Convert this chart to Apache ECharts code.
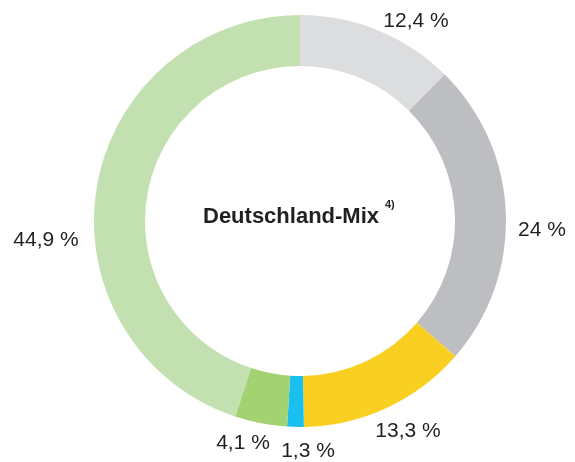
<!DOCTYPE html>
<html>
<head>
<meta charset="utf-8">
<script src="https://cdn.jsdelivr.net/npm/echarts@6/dist/echarts.min.js"></script>
<style>html,body{margin:0;padding:0;background:#fff}#c{width:575px;height:462px}</style>
</head>
<body>
<div id="c"></div>
<script>
const categories = ['A', 'B', 'C', 'D', 'E', 'F'];
const values = [12.4, 24, 13.3, 1.3, 4.1, 44.9];
const centerTitle = 'Deutschland-Mix';
const centerNote = '4)';

const COLORS = ['#dcdddf', '#bdbec1', '#f9cf22', '#19c0ef', '#a2d272', '#c3e0b0'];
const LABEL_POS = [[416, 21], [542, 230], [408, 431], [308, 451], [243, 443], [46, 240]];

const chart = echarts.init(document.getElementById('c'), null, {renderer: 'canvas'});
chart.setOption({
  animation: false,
  graphic: [{
    type: 'text',
    style: {
      x: 203, y: 217,
      text: centerTitle,
      fontFamily: 'Liberation Sans', fontWeight: 'bold', fontSize: 22, fill: '#231f20',
      textAlign: 'left', textVerticalAlign: 'middle'
    }
  }, {
    type: 'text',
    style: {
      x: 385, y: 205,
      text: centerNote,
      fontFamily: 'Liberation Sans', fontWeight: 'bold', fontSize: 11, fill: '#231f20',
      textAlign: 'left', textVerticalAlign: 'middle'
    }
  }],
  series: [{
    type: 'pie',
    center: [300, 221],
    radius: [155, 206],
    startAngle: 90,
    clockwise: true,
    data: categories.map((c, i) => ({name: c, value: values[i], itemStyle: {color: COLORS[i]}})),
    label: {
      show: true,
      position: 'outside',
      overflow: 'none',
      formatter: p => String(p.value).replace('.', ',') + ' %',
      fontFamily: 'Liberation Sans',
      fontSize: 21,
      color: '#231f20'
    },
    labelLine: {show: false},
    labelLayout: p => ({x: LABEL_POS[p.dataIndex][0], y: LABEL_POS[p.dataIndex][1], align: 'center', verticalAlign: 'middle', width: 120}),
    emphasis: {disabled: true}
  }]
});
</script>
</body>
</html>
